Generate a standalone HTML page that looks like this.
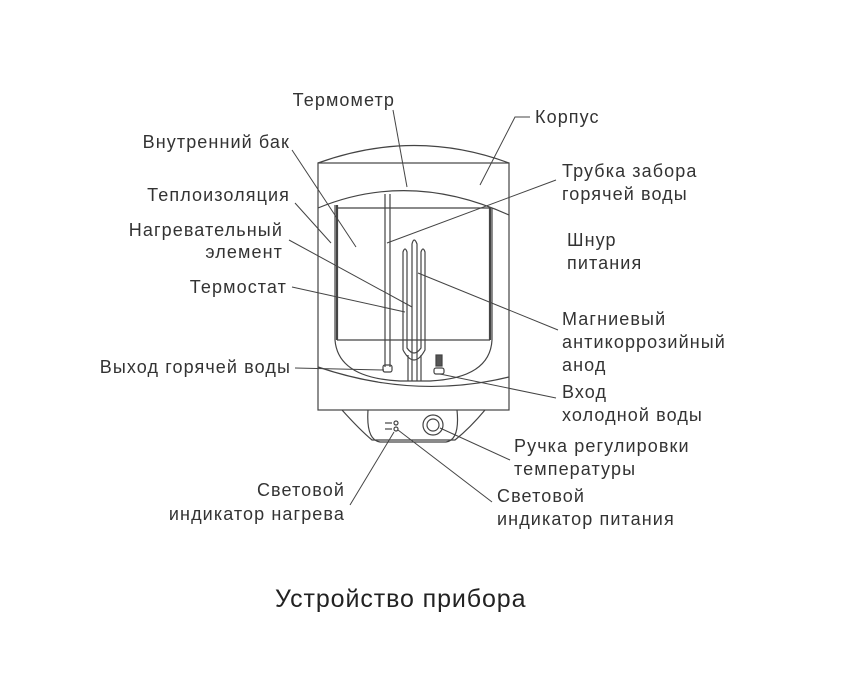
<!DOCTYPE html>
<html><head><meta charset="utf-8"><style>
body{margin:0;background:#fff;}
svg{display:block}
text{font-family:"Liberation Sans",sans-serif;font-size:18px;fill:#333;letter-spacing:1.1px}
.e{text-anchor:end}
</style></head><body>
<svg width="855" height="699" viewBox="0 0 855 699" xmlns="http://www.w3.org/2000/svg">
<g fill="none" stroke="#444" stroke-width="1.2">
<path d="M318,163 Q415,128 509,163"/>
<rect x="318" y="163" width="191" height="247"/>
<path d="M318,208 Q410,170 509,215"/>
<path d="M318,367 Q415,400 509,377"/>
<path d="M335,205 L335,340 Q338,378 400,381 L430,381 Q490,378 492,340 L492,208"/>
<path d="M337,205 L337,340" stroke-width="2.2"/>
<path d="M490,208 L490,340" stroke-width="2.2"/>
<line x1="337" y1="208" x2="490" y2="208"/>
<line x1="337" y1="340" x2="490" y2="340"/>
<path d="M385,194 L385,367 M390,194 L390,367"/>
<rect x="383" y="365" width="9" height="7" rx="2"/>
<path d="M403,350 L403,252 Q405,246 407,252 L407,348 Q414,358 421,348 L421,252 Q423,246 425,252 L425,350 Q414,370 403,350"/>
<path d="M412,381 L412,244 Q414,236 417,244 L417,381"/>
<path d="M408,381 L408,355 M421,381 L421,355"/>
<rect x="436" y="355" width="6" height="11" fill="#555"/>
<rect x="434" y="368" width="10" height="6" rx="2"/>
<path d="M342,410 Q360,430 372,440 L455,440 Q470,428 485,410"/>
<path d="M368,410 Q366,440 380,442 L446,442 Q460,440 457,410"/>
<circle cx="433" cy="425" r="10"/>
<circle cx="433" cy="425" r="6"/>
<circle cx="396" cy="423" r="2"/>
<circle cx="396" cy="429" r="2"/>
<line x1="385" y1="423" x2="392" y2="423"/>
<line x1="385" y1="429" x2="392" y2="429"/>
</g>
<g fill="none" stroke="#444" stroke-width="1">
<line x1="393" y1="110" x2="407" y2="187"/>
<polyline points="530,117 515,117 480,185"/>
<line x1="292" y1="150" x2="356" y2="247"/>
<line x1="556" y1="180" x2="387" y2="243"/>
<line x1="295" y1="203" x2="331" y2="243"/>
<line x1="289" y1="240" x2="412" y2="307"/>
<line x1="292" y1="287" x2="405" y2="312"/>
<line x1="558" y1="330" x2="418" y2="273"/>
<line x1="295" y1="368" x2="384" y2="370"/>
<line x1="556" y1="398" x2="440" y2="374"/>
<line x1="510" y1="460" x2="440" y2="428"/>
<line x1="350" y1="505" x2="394" y2="432"/>
<line x1="492" y1="502" x2="398" y2="430"/>
</g>
<text class="e" x="395" y="106">Термометр</text>
<text x="535" y="123">Корпус</text>
<text class="e" x="290" y="148">Внутренний бак</text>
<text x="562" y="177">Трубка забора</text>
<text x="562" y="200">горячей воды</text>
<text class="e" x="290" y="201">Теплоизоляция</text>
<text class="e" x="283" y="236">Нагревательный</text>
<text class="e" x="283" y="258">элемент</text>
<text x="567" y="246">Шнур</text>
<text x="567" y="269">питания</text>
<text class="e" x="287" y="293">Термостат</text>
<text x="562" y="325">Магниевый</text>
<text x="562" y="348">антикоррозийный</text>
<text x="562" y="371">анод</text>
<text class="e" x="291" y="373">Выход горячей воды</text>
<text x="562" y="398">Вход</text>
<text x="562" y="421">холодной воды</text>
<text x="514" y="452">Ручка регулировки</text>
<text x="514" y="475">температуры</text>
<text class="e" x="345" y="496">Световой</text>
<text class="e" x="345" y="520">индикатор нагрева</text>
<text x="497" y="502">Световой</text>
<text x="497" y="525">индикатор питания</text>
<text x="275" y="607" style="font-size:25px;fill:#222;letter-spacing:0.9px">Устройство прибора</text>
</svg>
</body></html>
